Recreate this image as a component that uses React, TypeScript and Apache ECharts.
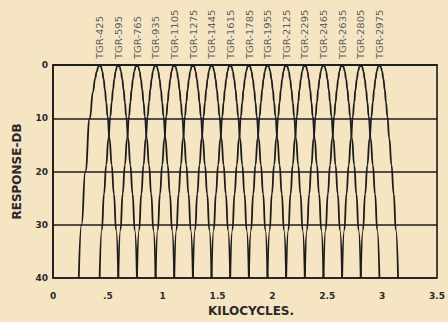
import React, { useEffect, useRef } from "react";
import * as echarts from "echarts";

// Filter centre frequencies (kc) and their names printed above the peaks
const CENTERS = [0.425, 0.595, 0.765, 0.935, 1.105, 1.275, 1.445, 1.615, 1.785, 1.955, 2.125, 2.295, 2.465, 2.635, 2.805, 2.975];
const FILTER_NAMES = ["TGR-425", "TGR-595", "TGR-765", "TGR-935", "TGR-1105", "TGR-1275", "TGR-1445", "TGR-1615", "TGR-1785", "TGR-1955", "TGR-2125", "TGR-2295", "TGR-2465", "TGR-2635", "TGR-2805", "TGR-2975"];

// Response shape: offset from centre (kc) -> attenuation (dB), one side
const SKIRT_OFFSET = [0, 0.012, 0.024, 0.036, 0.048, 0.06, 0.072, 0.09, 0.11, 0.13, 0.15, 0.17];
const SKIRT_DB = [0, 0.3, 1.2, 2.6, 4.6, 7, 9.6, 13.8, 18.8, 24.2, 31, 40];
// The lowest filter has a broader low-frequency skirt
const FIRST_LEFT_OFFSET = [0.012, 0.026, 0.042, 0.06, 0.09, 0.13, 0.165, 0.19];
const FIRST_LEFT_DB = [0.3, 1.2, 2.6, 5, 10, 20, 30, 40];

const X_TICK_LABELS = ["0", ".5", "1", "1.5", "2", "2.5", "3", "3.5"];
const Y_TICK_LABELS = ["0", "10", "20", "30", "40"];

const BG = "#f6e5c2";
const INK = "#1c1c1c";
const FONT = "DejaVu Sans";

export default function App() {
  const ref = useRef<HTMLDivElement>(null);
  useEffect(() => {
    document.body.style.margin = "0";
    document.body.style.background = BG;
    if (!ref.current) return;
    const chart = echarts.init(ref.current, undefined, { renderer: "svg" });

    const series = CENTERS.map((c, i) => {
      const pts: number[][] = [];
      const leftO = i === 0 ? FIRST_LEFT_OFFSET : SKIRT_OFFSET.slice(1);
      const leftD = i === 0 ? FIRST_LEFT_DB : SKIRT_DB.slice(1);
      for (let k = leftO.length - 1; k >= 0; k--) pts.push([c - leftO[k], leftD[k]]);
      pts.push([c, 0]);
      for (let k = 1; k < SKIRT_OFFSET.length; k++) pts.push([c + SKIRT_OFFSET[k], SKIRT_DB[k]]);
      return {
        type: "line",
        name: FILTER_NAMES[i],
        data: pts,
        symbol: "none",
        smooth: 0.5,
        smoothMonotone: "x",
        clip: true,
        lineStyle: { color: INK, width: 1.8 },
      };
    });

    chart.setOption({
      animation: false,
      backgroundColor: BG,
      grid: { left: 53, right: 5, top: 65, bottom: 44, show: true, borderColor: INK, borderWidth: 1.6 },
      xAxis: {
        type: "value",
        min: 0,
        max: 3.5,
        interval: 0.5,
        axisLine: { show: true, lineStyle: { color: INK, width: 1.6 } },
        axisTick: { show: false },
        splitLine: { show: false },
        axisLabel: {
          margin: 13,
          color: "#2a2a2a",
          fontFamily: FONT,
          fontWeight: "bold",
          fontSize: 9,
          formatter: (v: number) => X_TICK_LABELS[Math.round(v / 0.5)] ?? "",
        },
        name: "KILOCYCLES.",
        nameLocation: "middle",
        nameGap: 27,
        nameTextStyle: { color: "#2a2a2a", fontFamily: FONT, fontWeight: "bold", fontSize: 12, padding: [0, 0, 0, 12] },
      },
      yAxis: {
        type: "value",
        inverse: true,
        min: 0,
        max: 40,
        interval: 10,
        axisLine: { show: true, lineStyle: { color: INK, width: 1.6 } },
        axisTick: { show: false },
        splitLine: { show: true, lineStyle: { color: INK, width: 1.6 } },
        axisLabel: {
          margin: 5,
          color: "#2a2a2a",
          fontFamily: FONT,
          fontWeight: "bold",
          fontSize: 9,
          formatter: (v: number) => Y_TICK_LABELS[Math.round(v / 10)] ?? "",
        },
        name: "RESPONSE-DB",
        nameLocation: "middle",
        nameRotate: 90,
        nameGap: 30,
        nameTextStyle: { color: "#2a2a2a", fontFamily: FONT, fontWeight: "bold", fontSize: 12 },
      },
      series,
    });

    const graphic = CENTERS.map((c, i) => {
      const p = chart.convertToPixel({ gridIndex: 0 }, [c, 0]) as number[];
      return {
        type: "text",
        x: p[0] + 1,
        y: 59,
        rotation: Math.PI / 2,
        scaleX: 1.25,
        style: {
          text: FILTER_NAMES[i],
          fontSize: 8,
          fontFamily: FONT,
          fill: "#606060",
          align: "left",
          verticalAlign: "middle",
        },
      };
    });
    chart.setOption({ graphic });

    return () => chart.dispose();
  }, []);
  return <div ref={ref} style={{ width: 448, height: 322, background: BG }} />;
}
